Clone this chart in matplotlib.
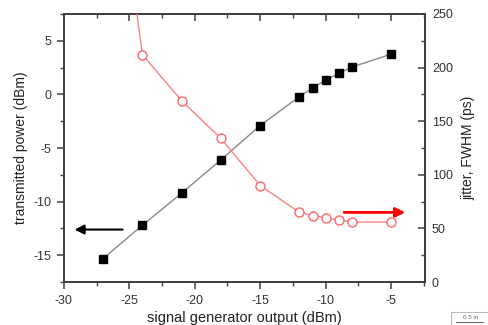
import numpy as np
import matplotlib.pyplot as plt
from matplotlib.ticker import MultipleLocator

plt.rcParams['font.family'] = ['Liberation Sans', 'DejaVu Sans']
plt.rcParams['axes.unicode_minus'] = False

# ---- data ----
sig_power = [-27, -24, -21, -18, -15, -12, -11, -10, -9, -8, -5]
tx_power = [-15.3, -12.2, -9.2, -6.1, -2.9, -0.2, 0.6, 1.35, 1.95, 2.55, 3.75]

sig_jitter = [-27, -24, -21, -18, -15, -12, -11, -10, -9, -8, -5]
jitter = [480, 212, 169, 134, 90, 65, 62, 60, 58, 56, 56]

grey = '#404040'

fig = plt.figure(figsize=(4.88, 3.25), dpi=100)
ax = fig.add_axes([0.131, 0.132, 0.740, 0.825])
ax2 = ax.twinx()

# transmitted power (left axis)
ax.plot(sig_power, tx_power, color='#888888', lw=1.0, marker='s', ms=6,
        mfc='black', mec='black', zorder=3)
# jitter (right axis), first point runs off the top
ax2.plot(sig_jitter, jitter, color='#ff8080', lw=1.0, marker='o', ms=6.5,
         mfc='white', mec='#ff6666', mew=1.0, zorder=3)

ax.set_xlim(-30, -2.4)
ax.set_ylim(-17.5, 7.5)
ax2.set_ylim(0, 250)

ax.xaxis.set_major_locator(MultipleLocator(5))
ax.xaxis.set_minor_locator(MultipleLocator(2.5))
ax.yaxis.set_major_locator(MultipleLocator(5))
ax.yaxis.set_minor_locator(MultipleLocator(2.5))
ax2.yaxis.set_major_locator(MultipleLocator(50))
ax2.yaxis.set_minor_locator(MultipleLocator(25))

for a in (ax, ax2):
    for s in a.spines.values():
        s.set_color(grey)
        s.set_linewidth(1.3)

ax.tick_params(axis='x', which='both', direction='out', top=False, colors=grey,
               labelsize=9, labelcolor='#333333', pad=4)
ax.tick_params(axis='x', which='major', length=5, width=1.1)
ax.tick_params(axis='x', which='minor', length=3, width=1.0)
ax.tick_params(axis='y', which='both', direction='out', colors=grey,
               labelsize=9, labelcolor='#333333', pad=4)
ax.tick_params(axis='y', which='major', length=5, width=1.1)
ax.tick_params(axis='y', which='minor', length=3, width=1.0)
ax2.tick_params(axis='y', which='both', direction='in', colors=grey,
                labelsize=9, labelcolor='#333333', pad=5)
ax2.tick_params(axis='y', which='major', length=5, width=1.1)
ax2.tick_params(axis='y', which='minor', length=3, width=1.0)

# top ticks pointing inward
top = ax.secondary_xaxis('top')
top.xaxis.set_major_locator(MultipleLocator(5))
top.xaxis.set_minor_locator(MultipleLocator(2.5))
top.tick_params(which='both', direction='in', colors=grey, labeltop=False)
top.tick_params(which='major', length=5, width=1.1)
top.tick_params(which='minor', length=3, width=1.0)
top.spines['top'].set_color(grey)
top.spines['top'].set_linewidth(1.3)

ax.set_xlabel('signal generator output (dBm)', fontsize=10.5, color='#222222',
              labelpad=3)
ax.set_ylabel('transmitted power (dBm)', fontsize=10, color='#222222',
              labelpad=4)
ax2.set_ylabel('jitter, FWHM (ps)', fontsize=10, color='#222222', labelpad=6)

# axis-pointing arrows
ax.annotate('', xy=(-29.4, -12.6), xytext=(-25.3, -12.6),
            arrowprops=dict(arrowstyle='-|>', color='black', lw=1.5,
                            mutation_scale=14))
ax2.annotate('', xy=(-3.7, 65), xytext=(-8.8, 65),
             arrowprops=dict(arrowstyle='-|>', color='red', lw=2.0,
                             mutation_scale=14))

# little scale bar in the corner
fig.patches.append(plt.Rectangle((0.925, -0.01), 0.08, 0.05,
                                 transform=fig.transFigure, fill=False,
                                 ec='#bbbbbb', lw=0.8))
fig.text(0.965, 0.018, '0.5 in', fontsize=4.5, color='#666666', ha='center')
fig.add_artist(plt.Line2D([0.935, 0.99], [0.01, 0.01], color='#666666',
                          lw=0.7, transform=fig.transFigure))

fig.savefig('out.png', dpi=100)
